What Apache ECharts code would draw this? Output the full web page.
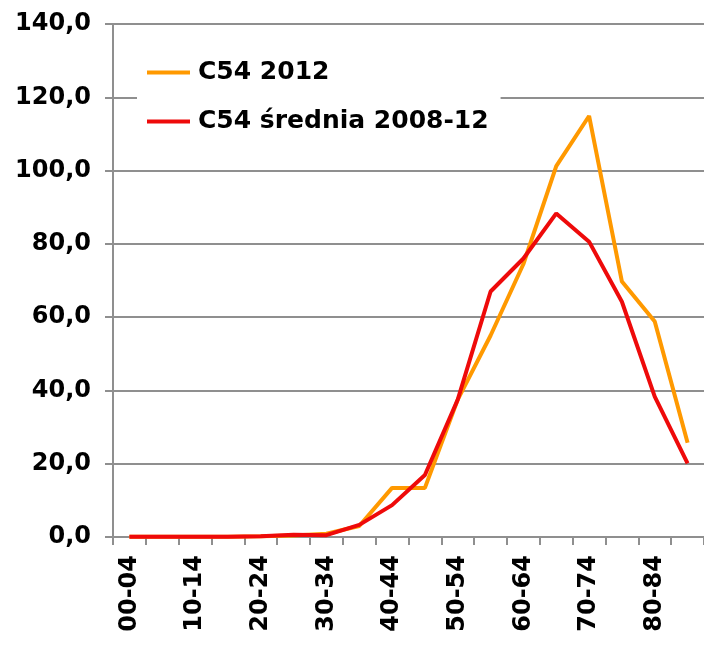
<!DOCTYPE html>
<html>
<head>
<meta charset="utf-8">
<script src="https://cdn.jsdelivr.net/npm/echarts@6/dist/echarts.min.js"></script>
<style>
  html, body { margin: 0; padding: 0; background: #ffffff; }
  #chart { width: 704px; height: 650px; }
</style>
</head>
<body>
<div id="chart"></div>
<script>
// Age groups on the x axis
const ageGroups = ['00-04', '05-09', '10-14', '15-19', '20-24', '25-29', '30-34', '35-39', '40-44',
                   '45-49', '50-54', '55-59', '60-64', '65-69', '70-74', '75-79', '80-84', '85+'];

// Series names
const name2012 = 'C54 2012';
const nameAvg = 'C54 średnia 2008-12';

// Rates per age group
const values2012 = [0.1, 0.1, 0.1, 0.1, 0.2, 0.4, 0.9, 3.0, 13.4, 13.4, 37.5, 55.0, 74.5, 101.2, 114.9, 69.7, 58.8, 25.7];
const valuesAvg  = [0.1, 0.1, 0.1, 0.1, 0.2, 0.6, 0.5, 3.3, 8.7, 16.9, 37.5, 67.0, 76.0, 88.3, 80.6, 64.2, 38.3, 20.1];

// Value axis range
const yMin = 0;
const yMax = 140;
const yStep = 20;

const FONT = '"DejaVu Sans", Verdana, sans-serif';
const GREY = '#8f8f8f';
const ORANGE = '#ff9900';
const RED = '#ee0a0a';

const chart = echarts.init(document.getElementById('chart'), null, { renderer: 'canvas' });

chart.setOption({
  animation: false,
  backgroundColor: '#ffffff',
  grid: { left: 113, top: 24, bottom: 113, width: 600, containLabel: false },
  legend: {
    orient: 'vertical',
    left: 137,
    top: 40,
    padding: [20, 12, 18, 10],
    backgroundColor: '#ffffff',
    icon: 'rect',
    itemWidth: 43,
    itemHeight: 4,
    itemGap: 24,
    textStyle: { fontFamily: FONT, fontWeight: 'bold', fontSize: 25, color: '#000000', padding: [0, 0, 0, 3] },
    data: [name2012, nameAvg]
  },
  xAxis: {
    type: 'category',
    data: ageGroups,
    boundaryGap: true,
    axisLine: { lineStyle: { color: GREY, width: 2 } },
    axisTick: { show: true, interval: 0, length: 8, lineStyle: { color: GREY, width: 2 } },
    axisLabel: {
      interval: 1,
      rotate: 90,
      margin: 18,
      fontFamily: FONT,
      fontWeight: 'bold',
      fontSize: 24,
      color: '#000000'
    },
    splitLine: { show: false }
  },
  yAxis: {
    type: 'value',
    min: yMin,
    max: yMax,
    interval: yStep,
    axisLine: { show: true, lineStyle: { color: GREY, width: 2 } },
    axisTick: { show: true, length: 8, lineStyle: { color: GREY, width: 2 } },
    axisLabel: {
      margin: 22,
      fontFamily: FONT,
      fontWeight: 'bold',
      fontSize: 24,
      color: '#000000',
      formatter: v => v.toFixed(1).replace('.', ',')
    },
    splitLine: { show: true, lineStyle: { color: GREY, width: 2 } }
  },
  series: [
    {
      name: name2012,
      type: 'line',
      data: values2012,
      symbol: 'none',
      z: 2,
      itemStyle: { color: ORANGE },
      lineStyle: { color: ORANGE, width: 4 }
    },
    {
      name: nameAvg,
      type: 'line',
      data: valuesAvg,
      symbol: 'none',
      z: 3,
      itemStyle: { color: RED },
      lineStyle: { color: RED, width: 4 }
    }
  ]
});
</script>
</body>
</html>
